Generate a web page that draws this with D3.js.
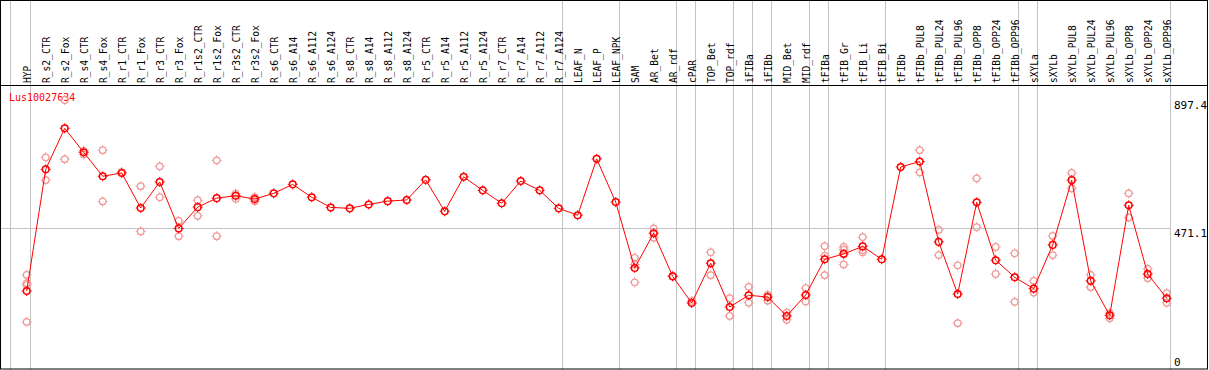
<!DOCTYPE html>
<html>
<head>
<meta charset="utf-8">
<script src="https://cdn.jsdelivr.net/npm/d3@7"></script>
<style>
  body { margin: 0; background: #fff; }
  svg { display: block; }
  text { font-family: "DejaVu Sans Mono", monospace; }
</style>
</head>
<body>
<svg id="chart" width="1209" height="370"></svg>
<script>
// gene shown
var geneName = "Lus10027634";

var categories = ["HYP","R_s2_CTR","R_s2_Fox","R_s4_CTR","R_s4_Fox","R_r1_CTR","R_r1_Fox","R_r3_CTR","R_r3_Fox",
  "R_r1s2_CTR","R_r1s2_Fox","R_r3s2_CTR","R_r3s2_Fox","R_s6_CTR","R_s6_A14","R_s6_A112","R_s6_A124",
  "R_s8_CTR","R_s8_A14","R_s8_A112","R_s8_A124","R_r5_CTR","R_r5_A14","R_r5_A112","R_r5_A124",
  "R_r7_CTR","R_r7_A14","R_r7_A112","R_r7_A124","LEAF_N","LEAF_P","LEAF_NPK","SAM","AR_Bet","AR_rdf",
  "cPAR","TOP_Bet","TOP_rdf","iFIBa","iFIBb","MID_Bet","MID_rdf","tFIBa","tFIB_Gr","tFIB_Li","tFIB_Bi",
  "tFIBb","tFIBb_PUL8","tFIBb_PUL24","tFIBb_PUL96","tFIBb_OPP8","tFIBb_OPP24","tFIBb_OPP96",
  "sXYLa","sXYLb","sXYLb_PUL8","sXYLb_PUL24","sXYLb_PUL96","sXYLb_OPP8","sXYLb_OPP24","sXYLb_OPP96"];

// mean expression per sample
var means = [260, 666, 803, 723, 643, 654, 537, 624, 469, 540, 570, 578, 567, 586, 616, 573, 539,
  536, 549, 560, 564, 631, 526, 641, 596, 553, 627, 596, 536, 513, 701, 557, 337, 453, 309,
  220, 353, 207, 246, 240, 177, 247, 366, 384, 409, 366, 674, 692, 424, 250, 556, 363, 306,
  268, 414, 630, 294, 179, 546, 317, 236];

// individual replicates (only the ones that show apart from the mean)
var replicates = [
  [314, 286, 280, 157], [706, 630], [897.4, 700], [728, 716], [730, 559], [657], [610, 459], [676, 573], [494, 443],
  [563, 511], [696, 443], [585, 568], [573, 560], [], [], [], [],
  [], [], [], [], [], [], [], [],
  [], [], [], [], [], [], [], [371, 349, 289], [469, 438], [311],
  [227], [389, 313], [236, 177], [274, 221], [247, 228], [188, 164], [270, 225], [410, 378, 313], [407, 398, 349], [440, 397, 389], [],
  [], [730, 656], [464, 380], [346, 153], [636, 473], [407, 317], [386, 224],
  [294, 255], [444, 380], [654, 603], [314, 273], [186, 169], [586, 505], [334, 303], [253, 221]
];

var yTicks = [0, 471.1, 897.4];
var gridValue = 471.1;
// index of last sample in each group (gray separator after it)
var groupEnds = [0, 28, 31, 34, 35, 37, 38, 39, 41, 42, 45, 52, 53, 60];

var W = 1209, H = 370;
var headerY = 85, plotRight = 1170;

var svg = d3.select("#chart");

var x = d3.scalePoint().domain(categories).range([26.7, 1166.7]);
var y = d3.scaleLinear().domain([0, 897.4]).range([369, 100]);
var step = x.step();

var gray = "#c4c4c4";

// group separators
svg.append("line")
  .attr("x1", 10.5).attr("x2", 10.5).attr("y1", 0).attr("y2", H)
  .attr("stroke", gray);
svg.selectAll("line.sep").data(groupEnds).enter().append("line")
  .attr("class", "sep")
  .attr("x1", function(i){ return Math.round(x(categories[i]) + 3.7) + 0.5; })
  .attr("x2", function(i){ return Math.round(x(categories[i]) + 3.7) + 0.5; })
  .attr("y1", 0).attr("y2", H)
  .attr("stroke", gray);

// horizontal grid line
svg.append("line")
  .attr("x1", 1).attr("x2", plotRight)
  .attr("y1", Math.round(y(gridValue)) + 0.5).attr("y2", Math.round(y(gridValue)) + 0.5)
  .attr("stroke", gray);

// frame
svg.append("rect").attr("x", 0.5).attr("y", 0.5).attr("width", 1207).attr("height", 368.5)
  .attr("fill", "none").attr("stroke", "#000");
svg.append("line").attr("x1", 0).attr("x2", 1208).attr("y1", headerY + 0.5).attr("y2", headerY + 0.5)
  .attr("stroke", "#000");

// sample labels
svg.selectAll("text.cat").data(categories).enter().append("text")
  .attr("class", "cat")
  .attr("transform", function(d){ return "translate(" + (x(d) + 4) + "," + 83 + ") rotate(-90)"; })
  .attr("font-size", "9.6px")
  .attr("fill", "#000")
  .text(function(d){ return d; });

// y tick labels on right
svg.selectAll("text.ytick").data(yTicks).enter().append("text")
  .attr("class", "ytick")
  .attr("x", 1174)
  .attr("y", function(d){ return d === 0 ? y(d) - 3 : y(d) + 9; })
  .attr("font-size", "11px")
  .attr("fill", "#000")
  .text(function(d){ return d; });

// title
svg.append("text")
  .attr("x", 9).attr("y", 101)
  .attr("font-size", "10px")
  .attr("fill", "#ff0000")
  .text(geneName);

function marker(g, color, width){
  g.append("circle").attr("r", 3.3).attr("fill", "none").attr("stroke", color).attr("stroke-width", width);
  g.append("path").attr("d", "M0,-5V-3M0,3V5M-5,0H-3M3,0H5").attr("stroke", color).attr("stroke-width", 1);
}

// replicates
var reps = [];
replicates.forEach(function(arr, i){
  arr.forEach(function(v){ reps.push({c: categories[i], v: v}); });
});
svg.selectAll("g.rep").data(reps).enter().append("g")
  .attr("class", "rep")
  .attr("transform", function(d){ return "translate(" + x(d.c) + "," + y(d.v) + ")"; })
  .each(function(){ marker(d3.select(this), "#f09a9a", 1.2); });

// mean line
var line = d3.line()
  .x(function(d, i){ return x(categories[i]); })
  .y(function(d){ return y(d); });
svg.append("path").datum(means)
  .attr("d", line)
  .attr("fill", "none")
  .attr("stroke", "#ff0000")
  .attr("stroke-width", 1);

svg.selectAll("g.mean").data(means).enter().append("g")
  .attr("class", "mean")
  .attr("transform", function(d, i){ return "translate(" + x(categories[i]) + "," + y(d) + ")"; })
  .each(function(){ marker(d3.select(this), "#ff0000", 1.5); });
</script>
</body>
</html>
